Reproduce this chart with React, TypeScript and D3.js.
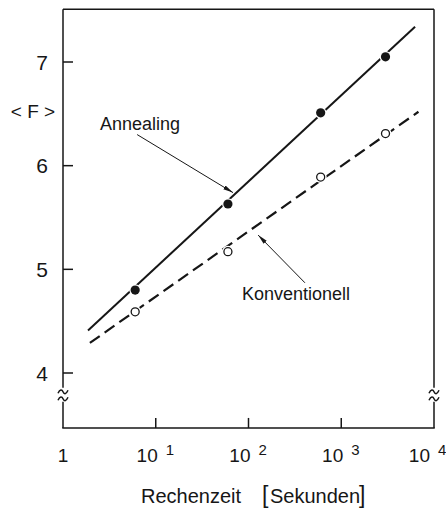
import React from "react";
import * as d3 from "d3";

const annealingTime = [6, 60, 600, 3000];
const annealingF = [4.8, 5.63, 6.51, 7.05];
const konvTime = [6, 60, 600, 3000];
const konvF = [4.59, 5.17, 5.89, 6.31];

// straight fit lines (ends only)
const annealingFitTime = [1.86, 6250];
const annealingFitF = [4.41, 7.34];
const konvFitTime = [1.95, 6800];
const konvFitF = [4.29, 6.52];

const yTicks = [4, 5, 6, 7];
const xTicks = [1, 10, 100, 1000, 10000];
const xTickExp = ["", "1", "2", "3", "4"];

const W = 446, H = 508;
const ink = "#161616";
const font = "'Liberation Sans', Arial, sans-serif";

const App = () => {
  const x = d3.scaleLog().domain([1, 10000]).range([63, 434]);
  const y = d3.scaleLinear().domain([4, 7]).range([373, 62]);

  const yTop = y(7.51), yBottom = y(3.47);
  const yBreak = y(3.78);
  const left = x(1), right = x(10000);

  const line = d3.line<[number, number]>().x(d => x(d[0])).y(d => y(d[1]));
  const annealingFit = line(annealingFitTime.map((t, i) => [t, annealingFitF[i]]));
  const konvFit = line(konvFitTime.map((t, i) => [t, konvFitF[i]]));

  const tilde = (cx: number, cy: number) =>
    `M${cx - 5},${cy + 1.5} C${cx - 3},${cy - 3} ${cx - 1},${cy - 2.5} ${cx},${cy} C${cx + 1},${cy + 2.5} ${cx + 3},${cy + 3} ${cx + 5},${cy - 1.5}`;

  const breakMarks = (cx: number) => (
    <g>
      <line x1={cx} x2={cx} y1={yTop} y2={yBreak - 8} />
      <path d={tilde(cx, yBreak - 4)} fill="none" />
      <path d={tilde(cx, yBreak + 3)} fill="none" />
      <line x1={cx} x2={cx} y1={yBreak + 6} y2={yBottom} />
    </g>
  );

  return (
    <svg width={W} height={H} style={{ position: "absolute", left: 0, top: 0, background: "#fff" }}
      fontFamily={font} fill={ink}>
      <defs>
        <marker id="arr" viewBox="0 0 10 6" refX="10" refY="3" markerWidth="10" markerHeight="6"
          orient="auto" markerUnits="userSpaceOnUse">
          <path d="M0,0.8 L10,3 L0,5.2 z" fill={ink} />
        </marker>
      </defs>

      {/* frame */}
      <g stroke={ink} strokeWidth={1.5}>
        <line x1={left} x2={right} y1={yTop} y2={yTop} />
        <line x1={left - 0.75} x2={right + 0.75} y1={yBottom} y2={yBottom} />
        {breakMarks(left)}
        {breakMarks(right)}
        {yTicks.map(t => <line key={t} x1={left} x2={left + 10} y1={y(t)} y2={y(t)} />)}
        {xTicks.slice(1, -1).map(t => <line key={t} x1={x(t)} x2={x(t)} y1={yBottom} y2={yBottom - 10} />)}
      </g>

      {/* y tick labels */}
      {yTicks.map(t => (
        <text key={t} x={48} y={y(t) + 7.5} textAnchor="end" fontSize={21}>{t}</text>
      ))}
      <text x={33} y={118} textAnchor="middle" fontSize={19}>{"< F >"}</text>

      {/* x tick labels */}
      {xTicks.map((t, i) => {
        if (i === 0) return <text key={t} x={x(t)} y={462} textAnchor="middle" fontSize={19}>1</text>;
        const last = i === xTicks.length - 1;
        const cx = x(t) - (last ? 6 : 0);
        return (
          <g key={t}>
            <text x={cx + 2} y={462} textAnchor="end" fontSize={19}>10</text>
            <text x={cx + 10} y={455} textAnchor="start" fontSize={15}>{xTickExp[i]}</text>
          </g>
        );
      })}

      {/* x axis title */}
      <text x={141} y={503} fontSize={20}>Rechenzeit</text>
      <text x={262} y={503} fontSize={23}>[</text>
      <text x={270} y={503} fontSize={20}>Sekunden</text>
      <text x={359} y={503} fontSize={23}>]</text>

      {/* fit lines */}
      <path d={annealingFit ?? ""} fill="none" stroke={ink} strokeWidth={2} />
      <path d={konvFit ?? ""} fill="none" stroke={ink} strokeWidth={2.2} strokeDasharray="12,6" />

      {/* markers */}
      {annealingTime.map((t, i) => (
        <circle key={"a" + i} cx={x(t)} cy={y(annealingF[i])} r={4.6} fill={ink}
          stroke="#fff" strokeWidth={2.5} paintOrder="stroke" />
      ))}
      {konvTime.map((t, i) => (
        <g key={"k" + i}>
          <circle cx={x(t)} cy={y(konvF[i])} r={6} fill="#fff" />
          <circle cx={x(t)} cy={y(konvF[i])} r={4} fill="#fff" stroke={ink} strokeWidth={1.3} />
        </g>
      ))}

      {/* annotations */}
      <text x={x(2.5)} y={y(6.34)} fontSize={18}>Annealing</text>
      <line x1={x(6.3)} y1={y(6.3)} x2={x(68)} y2={y(5.74)} stroke={ink} strokeWidth={1}
        markerEnd="url(#arr)" />
      <text x={x(85)} y={y(4.7)} fontSize={18}>Konventionell</text>
      <line x1={x(406)} y1={y(4.87)} x2={x(127)} y2={y(5.33)} stroke={ink} strokeWidth={1}
        markerEnd="url(#arr)" />
    </svg>
  );
};

export default App;
